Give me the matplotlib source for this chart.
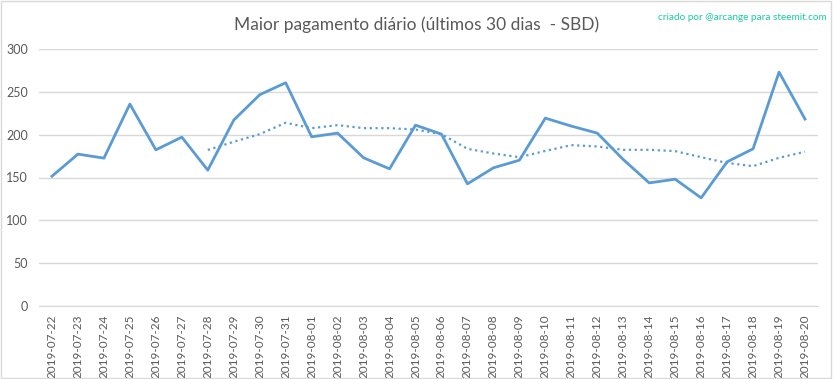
import matplotlib
matplotlib.use('Agg')
import matplotlib.pyplot as plt
from matplotlib.patches import Rectangle

datas = ['2019-07-22', '2019-07-23', '2019-07-24', '2019-07-25', '2019-07-26',
         '2019-07-27', '2019-07-28', '2019-07-29', '2019-07-30', '2019-07-31',
         '2019-08-01', '2019-08-02', '2019-08-03', '2019-08-04', '2019-08-05',
         '2019-08-06', '2019-08-07', '2019-08-08', '2019-08-09', '2019-08-10',
         '2019-08-11', '2019-08-12', '2019-08-13', '2019-08-14', '2019-08-15',
         '2019-08-16', '2019-08-17', '2019-08-18', '2019-08-19', '2019-08-20']

pagamento = [151.5, 177.3, 172.6, 235.7, 182.3, 197.1, 158.6, 217.0, 246.6, 260.6,
             197.5, 201.8, 173.0, 160.1, 211.1, 200.6, 142.6, 161.3, 170.2, 219.3,
             210.0, 201.8, 171.0, 143.7, 148.0, 126.2, 168.3, 183.5, 273.0, 218.2]

# media movel (7 dias), comeca em 2019-07-28
media_movel = [182.2, 191.7, 200.6, 213.9, 207.6, 211.1, 207.6, 207.6, 206.0, 200.6,
               183.5, 178.0, 173.7, 181.0, 187.8, 186.2, 182.3, 182.3, 180.8, 173.7,
               167.0, 163.2, 173.0, 180.1]

plt.rcParams['font.family'] = ['Lato', 'DejaVu Sans']

azul = '#5B9BD5'
cinza_txt = '#595959'
cinza_grade = '#D9D9D9'

fig = plt.figure(figsize=(8.33, 3.79), dpi=100)
ax = fig.add_axes([39 / 833, 1 - 306 / 379, (818 - 39) / 833, (306 - 49) / 379])

x = list(range(len(datas)))
x_mm = x[len(datas) - len(media_movel):]

ax.plot(x, pagamento, color=azul, linewidth=2.0, solid_joinstyle='round')
ax.plot(x_mm, media_movel, color=azul, linewidth=1.6, linestyle=(0, (1, 1.6)))

ax.set_xlim(-0.5, len(datas) - 0.5)
ax.set_ylim(0, 300)
ax.set_yticks(range(0, 301, 50))
ax.set_xticks(x)
ax.set_xticklabels(datas, rotation=90, fontsize=8.5, color=cinza_txt)
ax.tick_params(axis='y', labelsize=9, colors=cinza_txt, length=0, pad=8)
ax.tick_params(axis='x', length=0, pad=6)

ax.grid(axis='y', color=cinza_grade, linewidth=1)
ax.set_axisbelow(True)
for lado in ['top', 'right', 'left']:
    ax.spines[lado].set_visible(False)
ax.spines['bottom'].set_color(cinza_grade)

fig.text(0.5, 0.935, 'Maior pagamento diário (últimos 30 dias  - SBD)',
         ha='center', va='center', fontsize=12.5, color=cinza_txt)
fig.text(0.993, 0.955, 'criado por @arcange para steemit.com',
         ha='right', va='center', fontsize=7.2, color='#1ACCA0')

fig.patches.append(Rectangle((0.001, 0.002), 0.997, 0.996, transform=fig.transFigure,
                             fill=False, edgecolor=cinza_grade, linewidth=1))

fig.savefig('out.png', dpi=100)
